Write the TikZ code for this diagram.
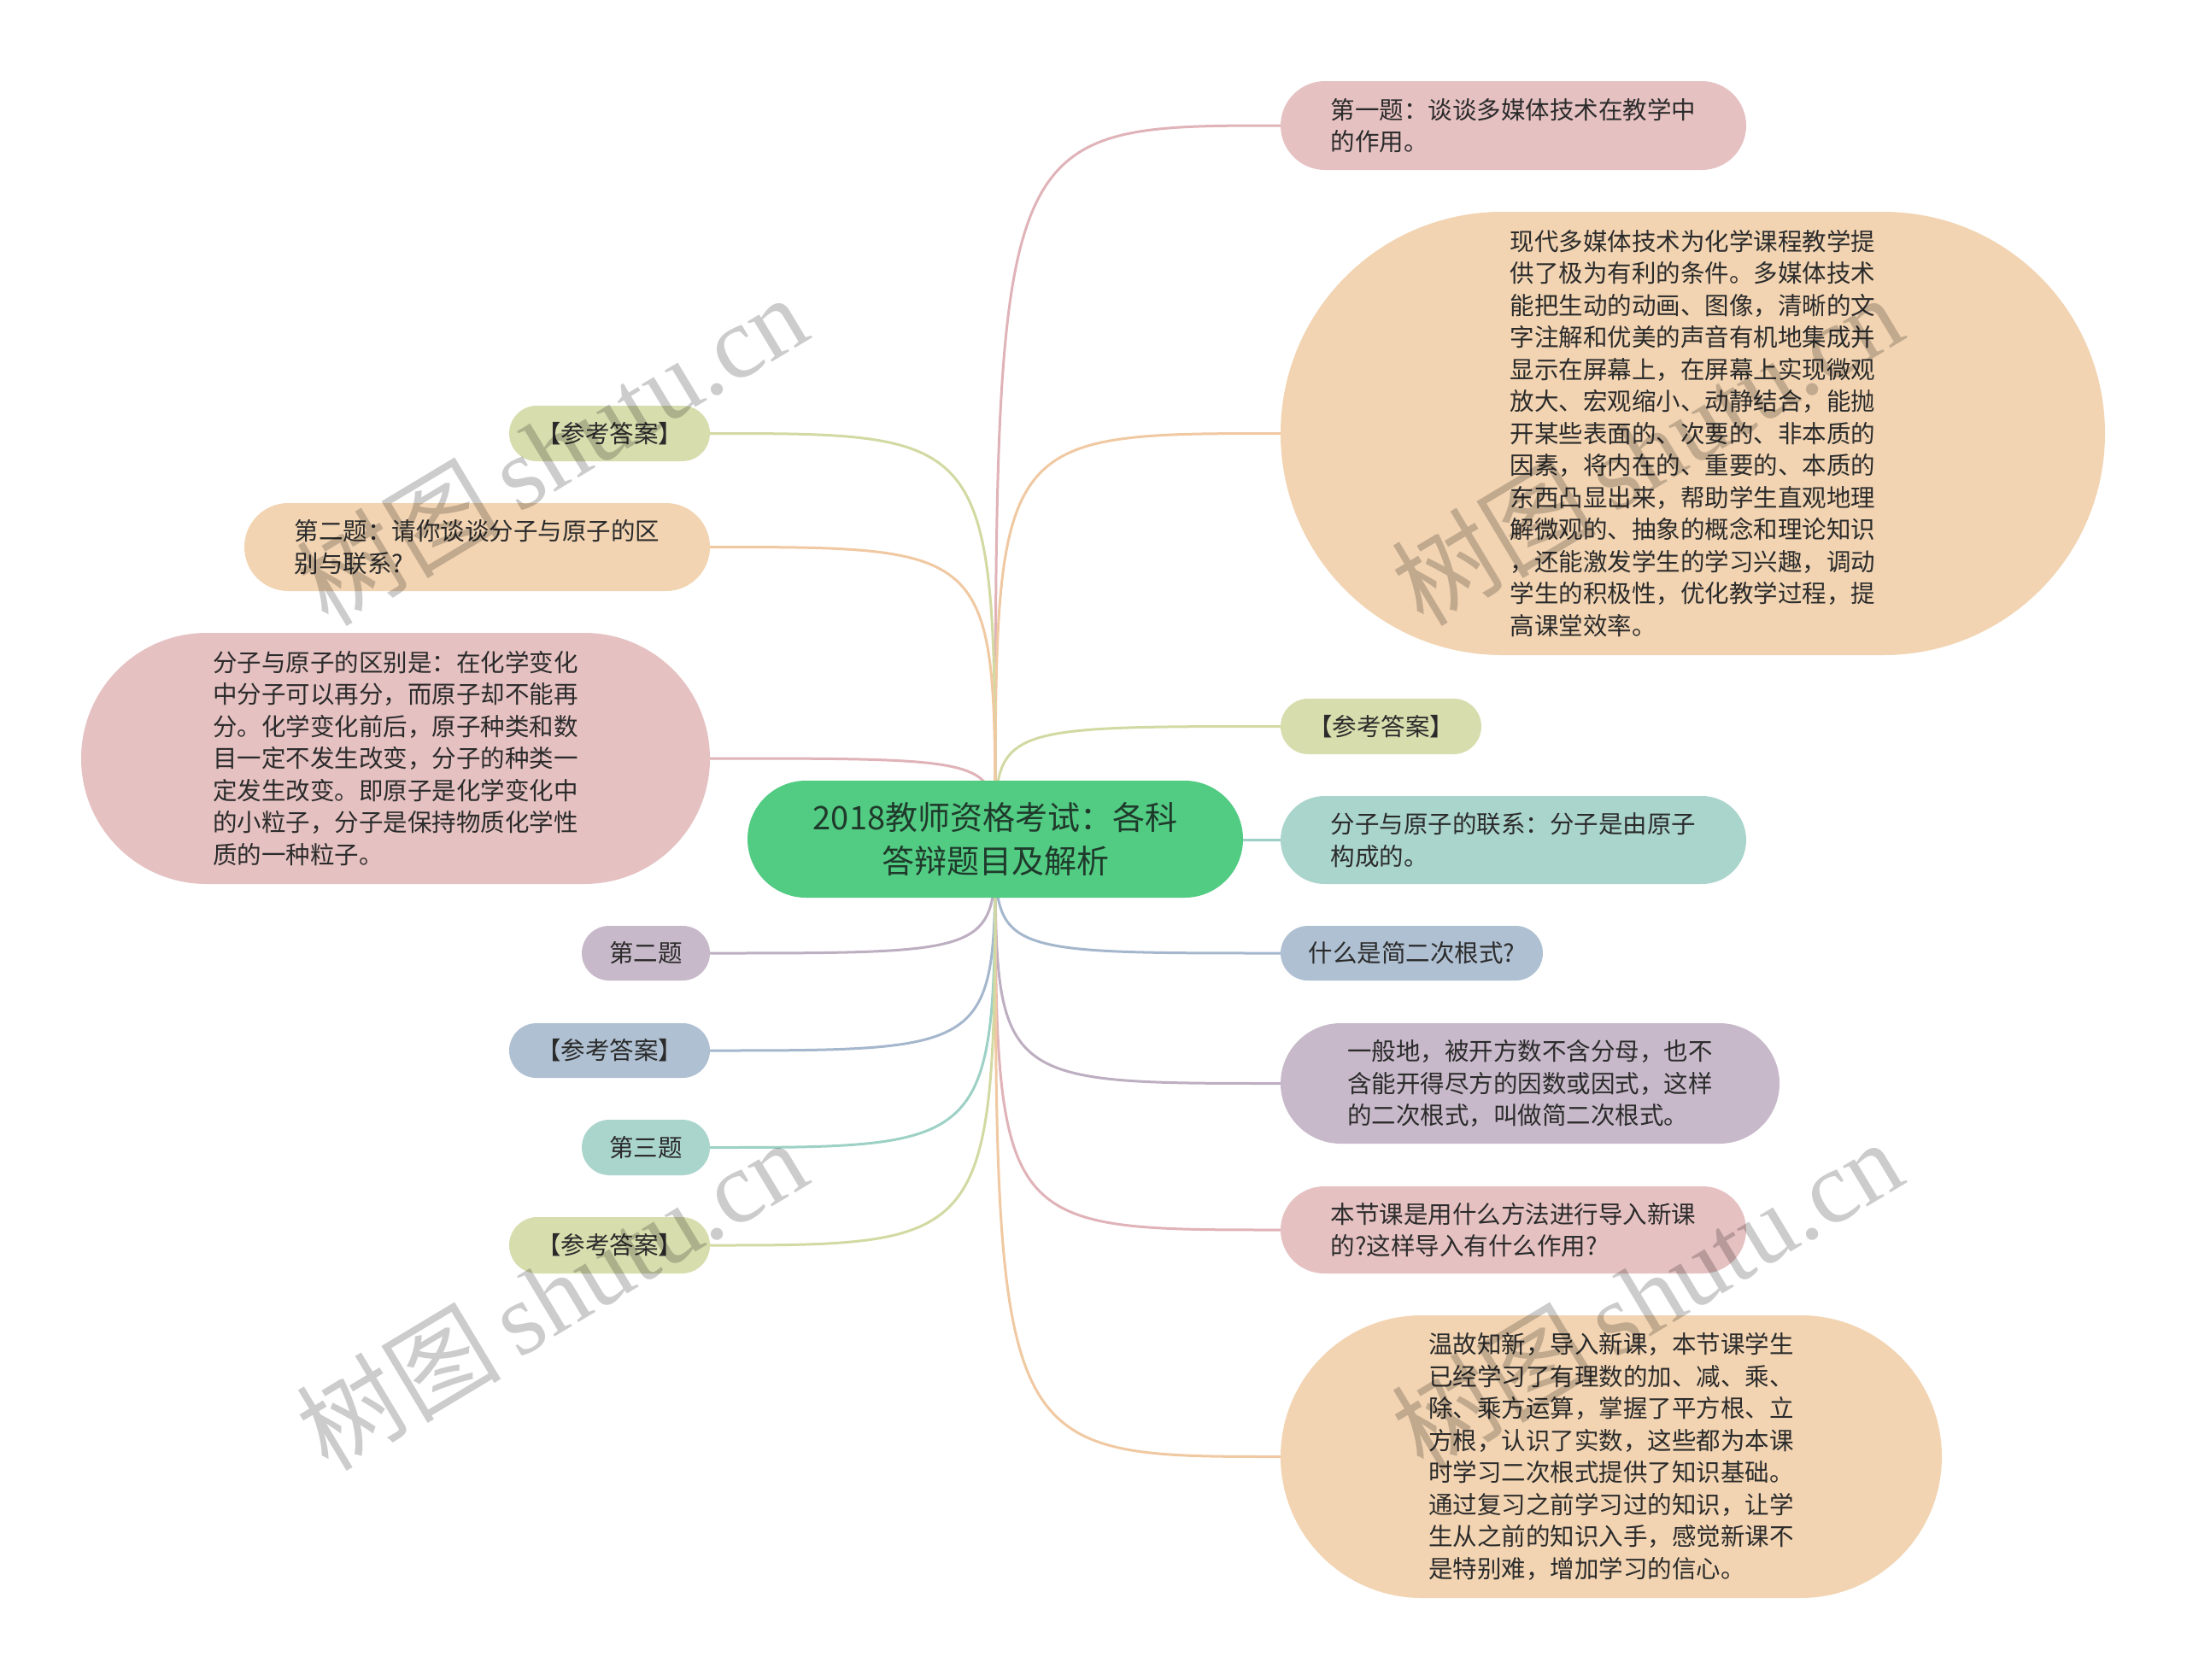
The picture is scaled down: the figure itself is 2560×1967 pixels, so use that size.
\documentclass[tikz,border=0pt]{standalone}
\usepackage{fontspec}
\setmainfont{Noto Sans CJK SC}
\newfontfamily\wmlatin{Liberation Serif}
\newfontfamily\wmcjk{Noto Sans CJK SC}
\usetikzlibrary{shapes.misc}
\pgfdeclarelayer{paper}
\pgfdeclarelayer{bg}
\pgfdeclarelayer{fg}
\pgfsetlayers{paper,bg,main,fg}

\definecolor{txt}{HTML}{2B2B2B}
\definecolor{roottxt}{HTML}{1F3A2B}
\definecolor{rootfill}{HTML}{52CB83}
\definecolor{pinkF}{HTML}{E6C1C2}
\definecolor{peachF}{HTML}{F2D4B2}
\definecolor{oliveF}{HTML}{D8DDAE}
\definecolor{tealF}{HTML}{AAD5CC}
\definecolor{blueF}{HTML}{AFC0D2}
\definecolor{lavF}{HTML}{C8B9CA}
\definecolor{pinkE}{HTML}{E0B3B8}
\definecolor{peachE}{HTML}{F0C9A2}
\definecolor{oliveE}{HTML}{D3D9A2}
\definecolor{tealE}{HTML}{9DD1C5}
\definecolor{blueE}{HTML}{A5B7CD}
\definecolor{lavE}{HTML}{BDAEC2}

\tikzset{
  box/.style={rounded rectangle, inner sep=0pt, text=txt, align=left,
    font=\fontsize{28.5}{37.5}\selectfont},
  rootbox/.style={rounded rectangle, inner sep=0pt, fill=rootfill, text=roottxt,
    align=center, font=\fontsize{38}{51}\selectfont},
  link/.style={line width=3pt, line cap=round},
  wmark/.style={rotate=31, text=black, text opacity=0.2, inner sep=0pt},
}

\begin{document}
\begin{tikzpicture}[x=1pt,y=-1pt]
\useasboundingbox (0,0) rectangle (2560,1967);
\begin{pgfonlayer}{paper}
\fill[white] (0,0) rectangle (2560,1967);
\end{pgfonlayer}

% root
\node[rootbox, minimum width=580pt, minimum height=137pt] (root) at (1165,982.5)
  {2018教师资格考试：各科\\答辩题目及解析};

% right side
\node[box, fill=pinkF, minimum width=545pt, minimum height=104pt] (R1) at (1771.5,147)
  {第一题：谈谈多媒体技术在教学中\\的作用。};
\node[box, fill=peachF, minimum width=965pt, minimum height=519pt] (R2) at (1981.5,507.5)
  {现代多媒体技术为化学课程教学提\\供了极为有利的条件。多媒体技术\\能把生动的动画、图像，清晰的文\\字注解和优美的声音有机地集成并\\显示在屏幕上，在屏幕上实现微观\\放大、宏观缩小、动静结合，能抛\\开某些表面的、次要的、非本质的\\因素，将内在的、重要的、本质的\\东西凸显出来，帮助学生直观地理\\解微观的、抽象的概念和理论知识\\，还能激发学生的学习兴趣，调动\\学生的积极性，优化教学过程，提\\高课堂效率。};
\node[box, fill=oliveF, minimum width=235pt, minimum height=65pt] (R3) at (1616.5,850.5)
  {【参考答案】};
\node[box, fill=tealF, minimum width=545pt, minimum height=103pt] (R4) at (1771.5,983.5)
  {分子与原子的联系：分子是由原子\\构成的。};
\node[box, fill=blueF, minimum width=307pt, minimum height=64pt] (R5) at (1652.5,1116)
  {什么是简二次根式?};
\node[box, fill=lavF, minimum width=584pt, minimum height=141pt] (R6) at (1791,1268.5)
  {一般地，被开方数不含分母，也不\\含能开得尽方的因数或因式，这样\\的二次根式，叫做简二次根式。};
\node[box, fill=pinkF, minimum width=545pt, minimum height=102pt] (R7) at (1771.5,1440)
  {本节课是用什么方法进行导入新课\\的?这样导入有什么作用?};
\node[box, fill=peachF, minimum width=774pt, minimum height=331pt] (R8) at (1886,1705.5)
  {温故知新，导入新课，本节课学生\\已经学习了有理数的加、减、乘、\\除、乘方运算，掌握了平方根、立\\方根，认识了实数，这些都为本课\\时学习二次根式提供了知识基础。\\通过复习之前学习过的知识，让学\\生从之前的知识入手，感觉新课不\\是特别难，增加学习的信心。};

% left side
\node[box, fill=oliveF, minimum width=235pt, minimum height=65pt] (L1) at (713.5,507.5)
  {【参考答案】};
\node[box, fill=peachF, minimum width=545pt, minimum height=103pt] (L2) at (558.5,640.5)
  {第二题：请你谈谈分子与原子的区\\别与联系?};
\node[box, fill=pinkF, minimum width=736pt, minimum height=294pt] (L3) at (463,888)
  {分子与原子的区别是：在化学变化\\中分子可以再分，而原子却不能再\\分。化学变化前后，原子种类和数\\目一定不发生改变，分子的种类一\\定发生改变。即原子是化学变化中\\的小粒子，分子是保持物质化学性\\质的一种粒子。};
\node[box, fill=lavF, minimum width=150pt, minimum height=64pt] (L4) at (756,1116)
  {第二题};
\node[box, fill=blueF, minimum width=235pt, minimum height=64pt] (L5) at (713.5,1230)
  {【参考答案】};
\node[box, fill=tealF, minimum width=150pt, minimum height=65pt] (L6) at (756,1343.5)
  {第三题};
\node[box, fill=oliveF, minimum width=235pt, minimum height=66pt] (L7) at (713.5,1458)
  {【参考答案】};

% connectors
\begin{pgfonlayer}{bg}
\draw[link, pinkE]  (root.center) .. controls (root.center |- R1.west) .. (R1.west);
\draw[link, peachE] (root.center) .. controls (root.center |- R2.west) .. (R2.west);
\draw[link, oliveE] (root.center) .. controls (root.center |- R3.west) .. (R3.west);
\draw[link, tealE]  (root.center) .. controls (root.center |- R4.west) .. (R4.west);
\draw[link, blueE]  (root.center) .. controls (root.center |- R5.west) .. (R5.west);
\draw[link, lavE]   (root.center) .. controls (root.center |- R6.west) .. (R6.west);
\draw[link, pinkE]  (root.center) .. controls (root.center |- R7.west) .. (R7.west);
\draw[link, peachE] (root.center) .. controls (root.center |- R8.west) .. (R8.west);
\draw[link, oliveE] (root.center) .. controls (root.center |- L1.east) .. (L1.east);
\draw[link, peachE] (root.center) .. controls (root.center |- L2.east) .. (L2.east);
\draw[link, pinkE]  (root.center) .. controls (root.center |- L3.east) .. (L3.east);
\draw[link, lavE]   (root.center) .. controls (root.center |- L4.east) .. (L4.east);
\draw[link, blueE]  (root.center) .. controls (root.center |- L5.east) .. (L5.east);
\draw[link, tealE]  (root.center) .. controls (root.center |- L6.east) .. (L6.east);
\draw[link, oliveE] (root.center) .. controls (root.center |- L7.east) .. (L7.east);
\end{pgfonlayer}

% watermarks
\begin{pgfonlayer}{fg}
\node[wmark] (wm1) at (645,526)   {\fontsize{120}{120}\selectfont\wmcjk 树图\,\wmlatin shutu.cn};
\node[wmark] (wm2) at (1927,526)  {\fontsize{120}{120}\selectfont\wmcjk 树图\,\wmlatin shutu.cn};
\node[wmark] (wm3) at (645,1515)  {\fontsize{120}{120}\selectfont\wmcjk 树图\,\wmlatin shutu.cn};
\node[wmark] (wm4) at (1927,1515) {\fontsize{120}{120}\selectfont\wmcjk 树图\,\wmlatin shutu.cn};
\end{pgfonlayer}
\end{tikzpicture}
\end{document}
